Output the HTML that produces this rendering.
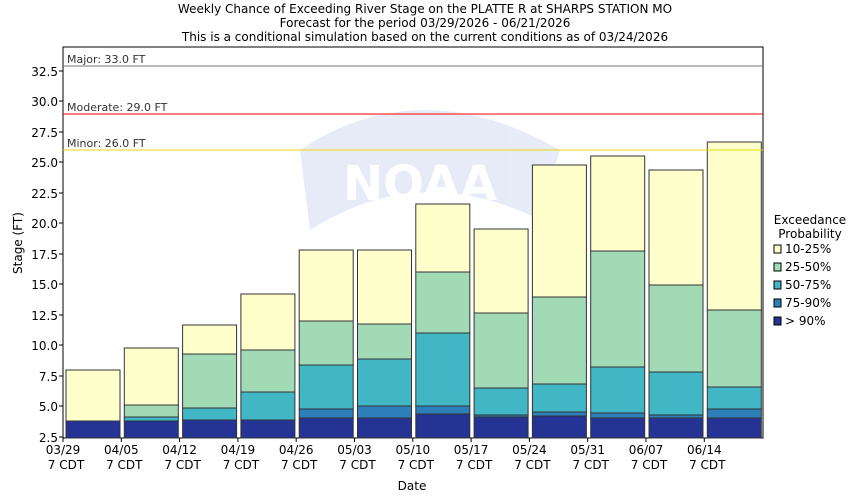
<!DOCTYPE html>
<html><head><meta charset="utf-8"><style>body{margin:0;background:#fff}svg{display:block;font-family:"DejaVu Sans","Liberation Sans",sans-serif}</style></head><body>
<svg width="850" height="500" xmlns="http://www.w3.org/2000/svg">
<rect width="850" height="500" fill="#fff"/>
<g font-size="12" text-anchor="middle" fill="#000">
<text x="425" y="13">Weekly Chance of Exceeding River Stage on the PLATTE R at SHARPS STATION MO</text>
<text x="425" y="27">Forecast for the period 03/29/2026 - 06/21/2026</text>
<text x="425" y="41">This is a conditional simulation based on the current conditions as of 03/24/2026</text>
</g>
<rect x="63" y="47" width="700" height="391" fill="#fff" stroke="#000"/>
<g opacity="0.18">
<path d="M300 150 Q420 70 560 150 L540 220 Q420 160 310 230 Z" fill="#7d8fd6"/>
<text x="420" y="200" font-size="48" font-weight="bold" fill="#fff" text-anchor="middle">NOAA</text>
</g>
<g stroke="#333" stroke-width="1">
<rect x="66" y="370" width="54" height="51" fill="#ffffcc"/><rect x="66" y="421" width="54" height="17" fill="#253494"/>
<rect x="124.3" y="348" width="54" height="57" fill="#ffffcc"/><rect x="124.3" y="405" width="54" height="12" fill="#a1dab4"/><rect x="124.3" y="417" width="54" height="4" fill="#41b6c4"/><rect x="124.3" y="421" width="54" height="17" fill="#253494"/>
<rect x="182.6" y="325" width="54" height="29" fill="#ffffcc"/><rect x="182.6" y="354" width="54" height="54" fill="#a1dab4"/><rect x="182.6" y="408" width="54" height="12" fill="#41b6c4"/><rect x="182.6" y="420" width="54" height="18" fill="#253494"/>
<rect x="240.9" y="294" width="54" height="56" fill="#ffffcc"/><rect x="240.9" y="350" width="54" height="42" fill="#a1dab4"/><rect x="240.9" y="392" width="54" height="28" fill="#41b6c4"/><rect x="240.9" y="420" width="54" height="18" fill="#253494"/>
<rect x="299.2" y="250" width="54" height="71" fill="#ffffcc"/><rect x="299.2" y="321" width="54" height="44" fill="#a1dab4"/><rect x="299.2" y="365" width="54" height="44" fill="#41b6c4"/><rect x="299.2" y="409" width="54" height="9" fill="#2c7fb8"/><rect x="299.2" y="418" width="54" height="20" fill="#253494"/>
<rect x="357.5" y="250" width="54" height="74" fill="#ffffcc"/><rect x="357.5" y="324" width="54" height="35" fill="#a1dab4"/><rect x="357.5" y="359" width="54" height="47" fill="#41b6c4"/><rect x="357.5" y="406" width="54" height="12" fill="#2c7fb8"/><rect x="357.5" y="418" width="54" height="20" fill="#253494"/>
<rect x="415.8" y="204" width="54" height="68" fill="#ffffcc"/><rect x="415.8" y="272" width="54" height="61" fill="#a1dab4"/><rect x="415.8" y="333" width="54" height="73" fill="#41b6c4"/><rect x="415.8" y="406" width="54" height="8" fill="#2c7fb8"/><rect x="415.8" y="414" width="54" height="24" fill="#253494"/>
<rect x="474.1" y="229" width="54" height="84" fill="#ffffcc"/><rect x="474.1" y="313" width="54" height="75" fill="#a1dab4"/><rect x="474.1" y="388" width="54" height="27" fill="#41b6c4"/><rect x="474.1" y="415" width="54" height="2" fill="#2c7fb8"/><rect x="474.1" y="417" width="54" height="21" fill="#253494"/>
<rect x="532.4" y="165" width="54" height="132" fill="#ffffcc"/><rect x="532.4" y="297" width="54" height="87" fill="#a1dab4"/><rect x="532.4" y="384" width="54" height="28" fill="#41b6c4"/><rect x="532.4" y="412" width="54" height="4" fill="#2c7fb8"/><rect x="532.4" y="416" width="54" height="22" fill="#253494"/>
<rect x="590.7" y="156" width="54" height="95" fill="#ffffcc"/><rect x="590.7" y="251" width="54" height="116" fill="#a1dab4"/><rect x="590.7" y="367" width="54" height="46" fill="#41b6c4"/><rect x="590.7" y="413" width="54" height="5" fill="#2c7fb8"/><rect x="590.7" y="418" width="54" height="20" fill="#253494"/>
<rect x="649" y="170" width="54" height="115" fill="#ffffcc"/><rect x="649" y="285" width="54" height="87" fill="#a1dab4"/><rect x="649" y="372" width="54" height="43" fill="#41b6c4"/><rect x="649" y="415" width="54" height="3" fill="#2c7fb8"/><rect x="649" y="418" width="54" height="20" fill="#253494"/>
<rect x="707.3" y="142" width="54" height="168" fill="#ffffcc"/><rect x="707.3" y="310" width="54" height="77" fill="#a1dab4"/><rect x="707.3" y="387" width="54" height="22" fill="#41b6c4"/><rect x="707.3" y="409" width="54" height="9" fill="#2c7fb8"/><rect x="707.3" y="418" width="54" height="20" fill="#253494"/>
</g>
<line x1="63" y1="66" x2="763" y2="66" stroke="#777"/>
<line x1="63" y1="114" x2="763" y2="114" stroke="#ff0000"/>
<line x1="63" y1="150" x2="763" y2="150" stroke="#e8d800"/>
<g font-size="11" fill="#333">
<text x="67" y="63">Major: 33.0 FT</text>
<text x="67" y="111">Moderate: 29.0 FT</text>
<text x="67" y="147">Minor: 26.0 FT</text>
</g>
<g font-size="12" text-anchor="end" fill="#000">
<text x="58" y="442">2.5</text><text x="58" y="411">5.0</text><text x="58" y="381">7.5</text><text x="58" y="350">10.0</text><text x="58" y="320">12.5</text><text x="58" y="289">15.0</text><text x="58" y="259">17.5</text><text x="58" y="228">20.0</text><text x="58" y="198">22.5</text><text x="58" y="167">25.0</text><text x="58" y="137">27.5</text><text x="58" y="106">30.0</text><text x="58" y="76">32.5</text>
</g>
<g stroke="#000">
<line x1="59" y1="437" x2="63" y2="437"/><line x1="59" y1="406" x2="63" y2="406"/><line x1="59" y1="376" x2="63" y2="376"/><line x1="59" y1="345" x2="63" y2="345"/><line x1="59" y1="315" x2="63" y2="315"/><line x1="59" y1="284" x2="63" y2="284"/><line x1="59" y1="254" x2="63" y2="254"/><line x1="59" y1="223" x2="63" y2="223"/><line x1="59" y1="193" x2="63" y2="193"/><line x1="59" y1="162" x2="63" y2="162"/><line x1="59" y1="132" x2="63" y2="132"/><line x1="59" y1="101" x2="63" y2="101"/><line x1="59" y1="71" x2="63" y2="71"/>
<line x1="63" y1="438" x2="63" y2="442"/><line x1="121.3" y1="438" x2="121.3" y2="442"/><line x1="179.6" y1="438" x2="179.6" y2="442"/><line x1="237.9" y1="438" x2="237.9" y2="442"/><line x1="296.2" y1="438" x2="296.2" y2="442"/><line x1="354.5" y1="438" x2="354.5" y2="442"/><line x1="412.8" y1="438" x2="412.8" y2="442"/><line x1="471.1" y1="438" x2="471.1" y2="442"/><line x1="529.4" y1="438" x2="529.4" y2="442"/><line x1="587.7" y1="438" x2="587.7" y2="442"/><line x1="646" y1="438" x2="646" y2="442"/><line x1="704.3" y1="438" x2="704.3" y2="442"/>
</g>
<g font-size="12" text-anchor="middle" fill="#000">
<text x="63" y="454">03/29</text><text x="66" y="469">7 CDT</text>
<text x="121.3" y="454">04/05</text><text x="124.3" y="469">7 CDT</text>
<text x="179.6" y="454">04/12</text><text x="182.6" y="469">7 CDT</text>
<text x="237.9" y="454">04/19</text><text x="240.9" y="469">7 CDT</text>
<text x="296.2" y="454">04/26</text><text x="299.2" y="469">7 CDT</text>
<text x="354.5" y="454">05/03</text><text x="357.5" y="469">7 CDT</text>
<text x="412.8" y="454">05/10</text><text x="415.8" y="469">7 CDT</text>
<text x="471.1" y="454">05/17</text><text x="474.1" y="469">7 CDT</text>
<text x="529.4" y="454">05/24</text><text x="532.4" y="469">7 CDT</text>
<text x="587.7" y="454">05/31</text><text x="590.7" y="469">7 CDT</text>
<text x="646" y="454">06/07</text><text x="649" y="469">7 CDT</text>
<text x="704.3" y="454">06/14</text><text x="707.3" y="469">7 CDT</text>
</g>
<text x="412" y="490" font-size="12" text-anchor="middle">Date</text>
<text transform="translate(22,243) rotate(-90)" font-size="12" text-anchor="middle">Stage (FT)</text>
<g font-size="12">
<text x="810" y="224" text-anchor="middle">Exceedance</text>
<text x="810" y="238" text-anchor="middle">Probability</text>
<rect x="774" y="245" width="7" height="8" fill="#ffffcc" stroke="#000"/><text x="785" y="253">10-25%</text>
<rect x="774" y="263" width="7" height="8" fill="#a1dab4" stroke="#000"/><text x="785" y="271">25-50%</text>
<rect x="774" y="281" width="7" height="8" fill="#41b6c4" stroke="#000"/><text x="785" y="289">50-75%</text>
<rect x="774" y="299" width="7" height="8" fill="#2c7fb8" stroke="#000"/><text x="785" y="307">75-90%</text>
<rect x="774" y="317" width="7" height="8" fill="#253494" stroke="#000"/><text x="785" y="325">&gt; 90%</text>
</g>
</svg>
</body></html>
